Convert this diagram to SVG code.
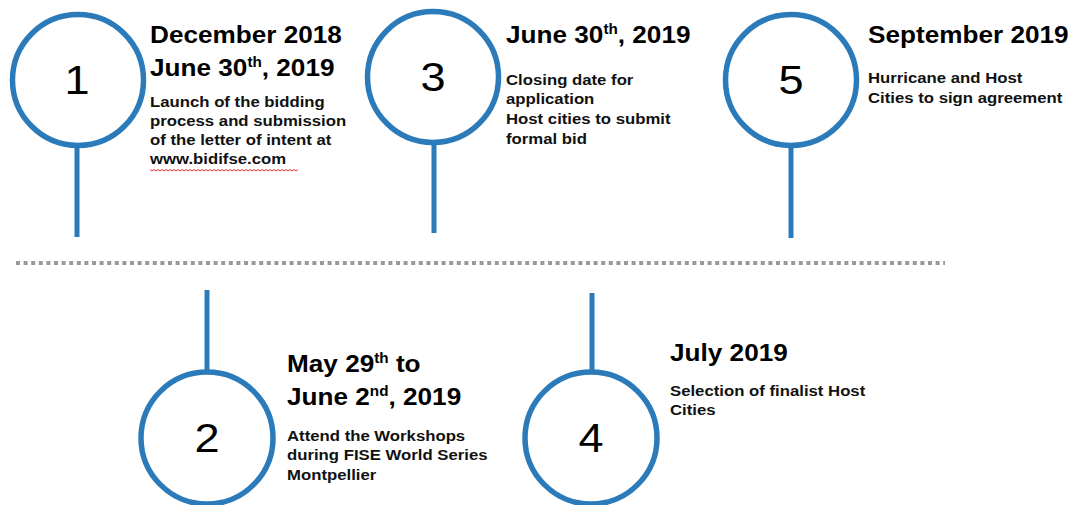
<svg xmlns="http://www.w3.org/2000/svg" width="1078" height="505" viewBox="0 0 1078 505">
<style>
.ring{fill:#fff;stroke:#2b7bba;stroke-width:5.5}
.stem{stroke:#2b7bba;stroke-width:5;fill:none}
.num{font-family:"Liberation Sans",Arial,sans-serif;font-size:41px;fill:#000;text-anchor:middle}
.h{font-family:"Liberation Sans",Arial,sans-serif;font-size:24px;font-weight:bold;fill:#000}
.b{font-family:"Liberation Sans",Arial,sans-serif;font-size:15.5px;font-weight:bold;fill:#111}
.sup{font-size:14px}
</style>
<rect width="1078" height="505" fill="#fff"/>
<g id="connectors">
<line x1="16" y1="263" x2="945" y2="263" stroke="#999" stroke-width="4" stroke-dasharray="4 3.6"/>
<line class="stem" x1="77" y1="145" x2="77" y2="237"/>
<line class="stem" x1="434" y1="141" x2="434" y2="233"/>
<line class="stem" x1="791" y1="145" x2="791" y2="238"/>
<line class="stem" x1="207" y1="290" x2="207" y2="374"/>
<line class="stem" x1="592" y1="293" x2="592" y2="374"/>
</g>
<g id="node1">
<circle class="ring" cx="78" cy="80" r="65.5"/>
<text class="num" transform="translate(77,94) scale(1.1,1)">1</text>
<g transform="translate(150,0) scale(1.09,1)">
<text class="h" y="43">December 2018</text>
<text class="h" y="76">June 30<tspan class="sup" dy="-9">th</tspan><tspan dy="9">, 2019</tspan></text>
</g>
<g transform="translate(150,0) scale(1.08,1)">
<text class="b" y="107">Launch of the bidding</text>
<text class="b" y="126">process and submission</text>
<text class="b" y="145">of the letter of intent at</text>
<text class="b" y="164">www.bidifse.com</text>
</g>
<path d="M150 169.5 l2 1.5 l2 -1.5 l2 1.5 l2 -1.5 l2 1.5 l2 -1.5 l2 1.5 l2 -1.5 l2 1.5 l2 -1.5 l2 1.5 l2 -1.5 l2 1.5 l2 -1.5 l2 1.5 l2 -1.5 l2 1.5 l2 -1.5 l2 1.5 l2 -1.5 l2 1.5 l2 -1.5 l2 1.5 l2 -1.5 l2 1.5 l2 -1.5 l2 1.5 l2 -1.5 l2 1.5 l2 -1.5 l2 1.5 l2 -1.5 l2 1.5 l2 -1.5 l2 1.5 l2 -1.5 l2 1.5 l2 -1.5 l2 1.5 l2 -1.5 l2 1.5 l2 -1.5 l2 1.5 l2 -1.5 l2 1.5 l2 -1.5 l2 1.5 l2 -1.5 l2 1.5 l2 -1.5 l2 1.5 l2 -1.5 l2 1.5 l2 -1.5 l2 1.5 l2 -1.5 l2 1.5 l2 -1.5 l2 1.5 l2 -1.5 l2 1.5 l2 -1.5 l2 1.5 l2 -1.5 l2 1.5 l2 -1.5 l2 1.5 l2 -1.5 l2 1.5 l2 -1.5 l2 1.5 l2 -1.5 l2 1.5 l2 -1.5" fill="none" stroke="#e0302a" stroke-width="1"/>
</g>
<g id="node3">
<circle class="ring" cx="433" cy="77" r="65.5"/>
<text class="num" transform="translate(433,91) scale(1.1,1)">3</text>
<g transform="translate(506,0) scale(1.09,1)">
<text class="h" y="43">June 30<tspan class="sup" dy="-9">th</tspan><tspan dy="9">, 2019</tspan></text>
</g>
<g transform="translate(506,0) scale(1.08,1)">
<text class="b" y="85">Closing date for</text>
<text class="b" y="104">application</text>
<text class="b" y="124">Host cities to submit</text>
<text class="b" y="144">formal bid</text>
</g>
</g>
<g id="node5">
<circle class="ring" cx="791" cy="80" r="65.5"/>
<text class="num" transform="translate(791,94) scale(1.1,1)">5</text>
<g transform="translate(868,0) scale(1.09,1)">
<text class="h" y="43">September 2019</text>
</g>
<g transform="translate(868,0) scale(1.08,1)">
<text class="b" y="83">Hurricane and Host</text>
<text class="b" y="103">Cities to sign agreement</text>
</g>
</g>
<g id="node2">
<circle class="ring" cx="207" cy="438" r="66"/>
<text class="num" transform="translate(207,452) scale(1.1,1)">2</text>
<g transform="translate(287,0) scale(1.09,1)">
<text class="h" y="372">May 29<tspan class="sup" dy="-9">th</tspan><tspan dy="9"> to</tspan></text>
<text class="h" y="405">June 2<tspan class="sup" dy="-9">nd</tspan><tspan dy="9">, 2019</tspan></text>
</g>
<g transform="translate(287,0) scale(1.08,1)">
<text class="b" y="441">Attend the Workshops</text>
<text class="b" y="460">during FISE World Series</text>
<text class="b" y="480">Montpellier</text>
</g>
</g>
<g id="node4">
<circle class="ring" cx="591" cy="438" r="66"/>
<text class="num" transform="translate(591,452) scale(1.1,1)">4</text>
<g transform="translate(670,0) scale(1.09,1)">
<text class="h" y="361">July 2019</text>
</g>
<g transform="translate(670,0) scale(1.08,1)">
<text class="b" y="396">Selection of finalist Host</text>
<text class="b" y="415">Cities</text>
</g>
</g>
</svg>
